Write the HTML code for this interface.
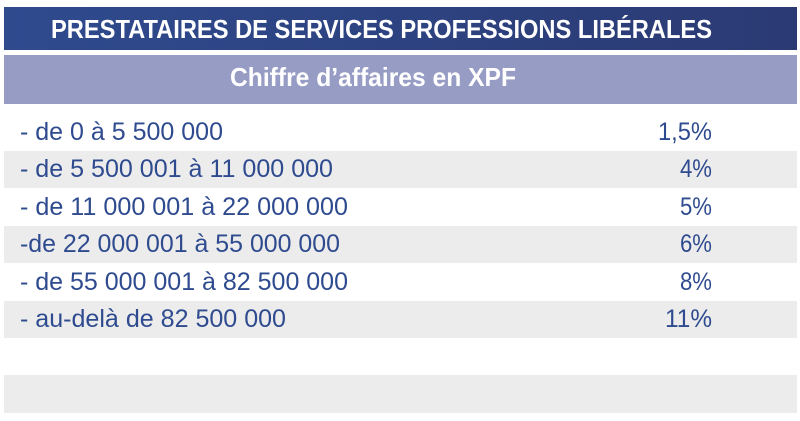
<!DOCTYPE html>
<html><head><meta charset="utf-8"><style>
body{margin:0;width:800px;height:421px;background:#fff;position:relative;overflow:hidden;font-family:"Liberation Sans",sans-serif}
.b{position:absolute;left:4px;width:793px}
.t{position:absolute;white-space:nowrap;transform-origin:0 0;line-height:1}
.r{color:#2f4b8f;font-size:25px}
</style></head><body>
<div class="b" style="top:7px;height:43px;background:linear-gradient(90deg,#2f4b8e,#2b3a73)"></div>
<div class="b" style="top:55px;height:49px;background:#979cc5"></div>
<div class="b" style="top:151px;height:37px;background:#ececec"></div>
<div class="b" style="top:226px;height:37px;background:#ececec"></div>
<div class="b" style="top:301px;height:37px;background:#ececec"></div>
<div class="b" style="top:375px;height:38px;background:#ececec"></div>

<div class="t" id="t0" style="left:51px;top:16px;color:#fff;font-weight:bold;font-size:26px">PRESTATAIRES DE SERVICES PROFESSIONS LIBÉRALES</div>
<div class="t" id="t1" style="left:230px;top:64px;color:#fff;font-weight:bold;font-size:26px">Chiffre d’affaires en XPF</div>

<div class="t r" style="left:20px;top:120px">- de 0 à 5 500 000</div>
<div class="t r" style="left:20px;top:157px">- de 5 500 001 à 11 000 000</div>
<div class="t r" style="left:20px;top:195px">- de 11 000 001 à 22 000 000</div>
<div class="t r" style="left:20px;top:232px">-de 22 000 001 à 55 000 000</div>
<div class="t r" style="left:20px;top:270px">- de 55 000 001 à 82 500 000</div>
<div class="t r" style="left:20px;top:307px">- au-delà de 82 500 000</div>

<div class="t r p" style="left:658px;top:120px">1,5%</div>
<div class="t r p" style="left:680px;top:157px">4%</div>
<div class="t r p" style="left:680px;top:195px">5%</div>
<div class="t r p" style="left:680px;top:232px">6%</div>
<div class="t r p" style="left:680px;top:270px">8%</div>
<div class="t r p" style="left:665px;top:307px">11%</div>
<script>
var targets=[661,286,203,313,328,320,328,266,54,32,32,32,32,47];
var els=document.querySelectorAll('.t');
for(var i=0;i<els.length;i++){var w=els[i].getBoundingClientRect().width;els[i].style.transform='scaleX('+(targets[i]/w)+')';}
</script>
</body></html>
